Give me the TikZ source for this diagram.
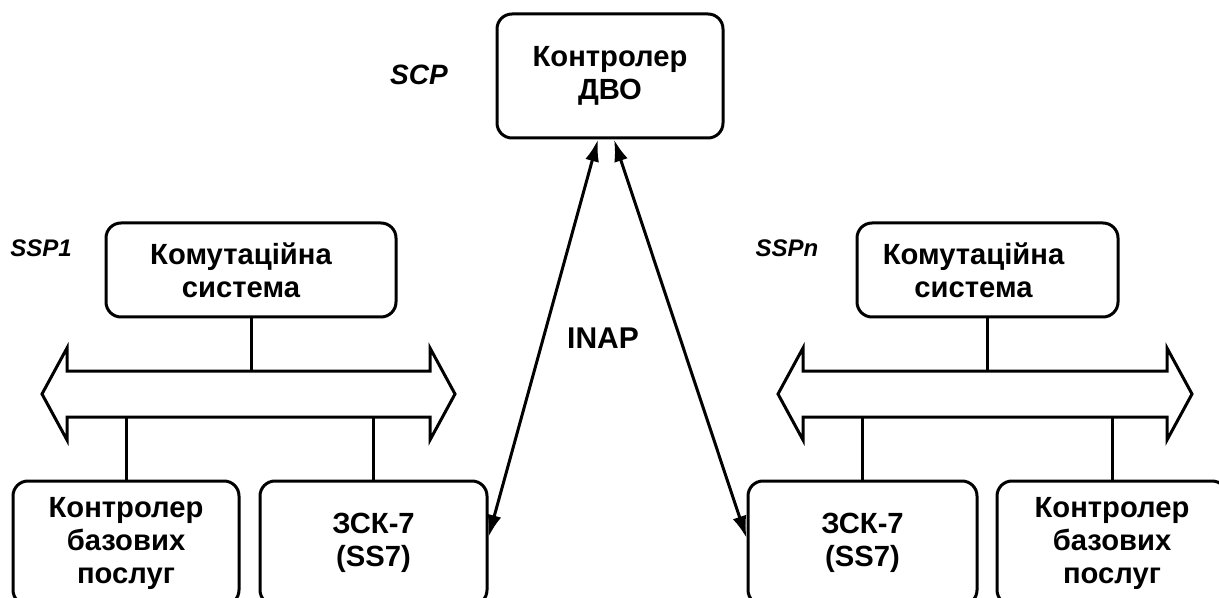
\documentclass[tikz,border=0pt]{standalone}
\usepackage{fontspec}
\setmainfont{Liberation Sans}
\usepackage{tikz}
\usetikzlibrary{arrows.meta}

\begin{document}
\begin{tikzpicture}[x=0.5pt,y=-0.5pt,line width=1.5pt,>={Latex[length=11pt,width=7pt]},
  unit node/.style={draw,rounded corners=7.5pt,inner sep=0pt,align=center,
        font=\fontsize{14.6}{16.5}\selectfont\bfseries},
  tag node/.style={font=\fontsize{12}{14}\selectfont\bfseries\itshape}]
  \clip (0,0) rectangle (1219,598);
  \node[unit node,minimum width=113pt,minimum height=62pt] (1) at (610,76) {Контролер\\ДВО};
  \node[unit node,minimum width=145pt,minimum height=47pt] (2) at (251,270)
    {Комутаційна\hspace*{10pt}\\система\hspace*{10pt}};
  \node[unit node,minimum width=113pt,minimum height=62pt] (3) at (126,543) {Контролер\\базових\\послуг};
  \node[unit node,minimum width=113.5pt,minimum height=62pt] (4) at (373.5,543) {ЗСК-7\\(SS7)};
  \node[unit node,minimum width=130.5pt,minimum height=47pt] (5) at (987.5,270)
    {Комутаційна\hspace*{14pt}\\система\hspace*{14pt}};
  \node[unit node,minimum width=114.5pt,minimum height=62pt] (6) at (862.5,543) {ЗСК-7\\(SS7)};
  \node[unit node,minimum width=115pt,minimum height=62pt] (7) at (1112,543) {Контролер\\базових\\послуг};

  \node[tag node] (8) at (41,248) {SSP1};
  \node[tag node] (9) at (787,248) {SSPn};
  \node[tag node,font=\fontsize{14}{16}\selectfont\bfseries\itshape] (10) at (419,75) {SCP};
  \node[font=\fontsize{15}{17}\selectfont\bfseries] (11) at (603,338) {INAP};

  \draw (42,394) -- (67,348) -- (67,371) -- (430,371) -- (430,348) -- (455,394)
    -- (430,440) -- (430,417) -- (67,417) -- (67,440) -- cycle;
  \draw (778,394) -- (803,348) -- (803,371) -- (1167,371) -- (1167,348) -- (1192,394)
    -- (1167,440) -- (1167,417) -- (803,417) -- (803,440) -- cycle;
  \coordinate (bus1) at (0,371);
  \coordinate (bus2) at (0,417);

  \draw (2.south) -- (2.south |- bus1);
  \draw (5.south) -- (5.south |- bus1);
  \draw (3.north) -- (3.north |- bus2);
  \draw (4.north) -- (4.north |- bus2);
  \draw (6.north) -- (6.north |- bus2);
  \draw (7.north) -- (7.north |- bus2);

  \draw[<->] ([xshift=-6pt]1.south) -- ([yshift=3pt]4.east);
  \draw[<->] ([xshift=2pt]1.south) -- ([yshift=2.5pt]6.west);
\end{tikzpicture}
\end{document}
